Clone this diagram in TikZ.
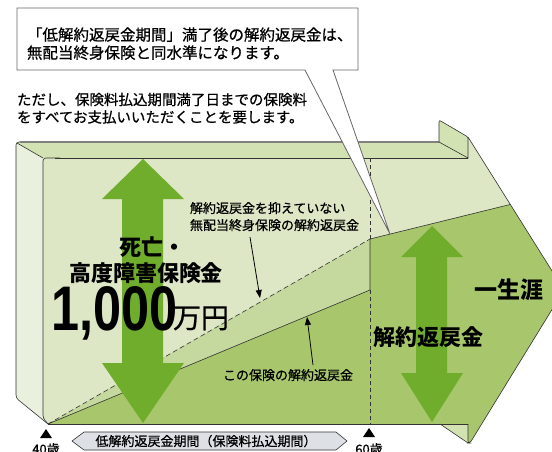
\documentclass[tikz,border=0pt]{standalone}
\usepackage{fontspec}
\usepackage{graphicx}
\setmainfont{Noto Sans CJK JP}
\newfontfamily\medfont{Noto Sans CJK JP}[FakeBold=0.7]
\newfontfamily\numfont{Liberation Sans}
\usetikzlibrary{arrows.meta}
\definecolor{faceL}{HTML}{DDE7C6}
\definecolor{sideL}{HTML}{E9F0DD}
\definecolor{bevelC}{HTML}{D3E2B2}
\definecolor{midG}{HTML}{C5D89E}
\definecolor{darkG}{HTML}{A8C66C}
\definecolor{arrowG}{HTML}{70AD2C}
\definecolor{bannerC}{HTML}{DDE1E6}
\definecolor{lineC}{HTML}{333333}
\begin{document}
\begin{tikzpicture}[x=1pt,y=-1pt,
  edge/.style={draw=lineC,line width=0.6pt},
  lbl/.style={inner sep=0pt,outer sep=0pt,anchor=base west,text=black},
  ctr/.style={inner sep=0pt,outer sep=0pt,anchor=base,text=black},
  ptr/.style={draw=black,line width=0.8pt,-{Triangle[length=8pt,width=6pt]}}]
\useasboundingbox (0,0) rectangle (552,452);
\clip (0,0) rectangle (552,452);
% key points
\coordinate (A) at (48,424);
\coordinate (S60) at (370,290);
\coordinate (D60) at (370,239);
\coordinate (Htop) at (468,137);
\coordinate (Tip) at (564,290);
\coordinate (Hbot) at (470,443);
\coordinate (X) at (intersection of 370,239--512,204 and 468,137--564,290);
% side panel
\fill[sideL] (16,142) -- (43,158) -- (43,418) -- (48,424) -- (16,398) -- cycle;
% top band and tab
\fill[bevelC] (16,142) -- (439,142) -- (468,158) -- (43,158) -- cycle;
\fill[bevelC] (439,142) -- (439,120) -- (468,137) -- (468,158) -- cycle;
% front face
\fill[faceL] (43,158) -- (468,158) -- (Htop) -- (Tip) -- (Hbot) -- (468,443) -- (468,424) -- (A) -- (43,418) -- cycle;
% middle band
\fill[midG] (A) -- (D60) -- (S60) -- cycle;
% this insurance area
\fill[darkG] (A) -- (S60) -- (D60) -- (X) -- (Tip) -- (Hbot) -- (468,443) -- (468,424) -- cycle;
% bottom bevel triangle
\fill[bevelC] (440,424) -- (468,424) -- (468,443) -- cycle;
% outlines
\draw[edge,rounded corners=3pt] (A) -- (16,398) -- (16,142) -- (30,142);
\draw[draw=gray,line width=1.1pt] (20,142) -- (439,142);
\draw[edge] (17,143) -- (43,158);
\draw[edge,rounded corners=3pt] (A) -- (43,418) -- (43,158) -- (60,158);
\draw[edge] (55,158) -- (468,158);
\draw[edge,rounded corners=2pt] (439,142) -- (439,120) -- (Htop) -- (Tip) -- (Hbot) -- (468,443) -- (468,424);
\draw[edge] (439,142) -- (468,158) -- (Htop);
\draw[edge] (A) -- (468,424);
\draw[edge] (440,424) -- (468,443);
\draw[edge] (A) -- (S60) -- (D60) -- (X);
\draw[edge,dash pattern=on 5pt off 3pt] (A) -- (D60);
\draw[edge,dash pattern=on 4pt off 3pt] (370,158) -- (D60);
\draw[edge,dash pattern=on 4pt off 3pt] (S60) -- (370,424);
% big arrows
\fill[arrowG] (143,159) -- (184,199) -- (163,199) -- (163,363) -- (184,363) -- (143,423) -- (102,363) -- (122,363) -- (122,199) -- (102,199) -- cycle;
\fill[arrowG] (432,226) -- (463,257) -- (447,257) -- (447,373) -- (463,373) -- (432,422) -- (401,373) -- (416,373) -- (416,257) -- (401,257) -- cycle;
% labels on chart
\node[lbl,font=\bfseries\fontsize{22}{24}\selectfont] (shibo) at (119,255.5) {死亡・};
\node[lbl,font=\bfseries\fontsize{22}{24}\selectfont] (kodo) at (69,281.5) {高度障害保険金};
\node[lbl] (amount) at (51,330) {\scalebox{0.8}[1]{\numfont\bfseries\fontsize{63}{65}\selectfont 1,000}};
\node[lbl,font=\medfont\fontsize{28}{30}\selectfont] (manen) at (173,328) {万円};
\node[lbl,font=\medfont\fontsize{13}{15}\selectfont] (cmp1) at (190,213) {解約返戻金を抑えていない};
\node[lbl,font=\medfont\fontsize{13}{15}\selectfont] (cmp2) at (190,230) {無配当終身保険の解約返戻金};
\node[lbl,font=\medfont\fontsize{13}{15}\selectfont] (this) at (223,380) {この保険の解約返戻金};
\node[lbl,font=\bfseries\fontsize{23}{25}\selectfont] (life) at (474,298.5) {一生涯};
\node[lbl,font=\bfseries\fontsize{22}{24}\selectfont] (surr) at (373,345.5) {解約返戻金};
% pointers
\coordinate (p1s) at (250,237);
\coordinate (p1e) at (260,298);
\coordinate (p2s) at (313,365);
\coordinate (p2e) at (307,317);
\draw[ptr] (p1s) -- (p1e);
\draw[ptr] (p2s) -- (p2e);
% bottom axis
\fill[black] (40,438) -- (52,438) -- (46,429) -- cycle;
\fill[black] (363,437) -- (375,437) -- (369,428) -- cycle;
\node[ctr,font=\medfont\fontsize{13}{15}\selectfont] (age40) at (46,454) {40歳};
\node[ctr,font=\medfont\fontsize{13}{15}\selectfont] (age60) at (369,454) {60歳};
\draw[fill=bannerC,draw=lineC,line width=0.6pt] (72,441) -- (84,432) -- (336,432) -- (347,441) -- (336,450) -- (84,450) -- cycle;
\node[ctr,font=\medfont\fontsize{13}{15}\selectfont] (period) at (206,446) {低解約返戻金期間（保険料払込期間）};
% notes
\node[lbl,font=\medfont\fontsize{14.5}{16}\selectfont] (note1) at (17,105) {ただし、保険料払込期間満了日までの保険料};
\node[lbl,font=\medfont\fontsize{14.5}{16}\selectfont] (note2) at (17,122.5) {をすべてお支払いいただくことを要します。};
% callout
\draw[fill=white,draw=gray!80!black,line width=0.8pt] (17,8) -- (358,8) -- (358,70) -- (333,70) -- (390,234) -- (305,70) -- (17,70) -- cycle;
\node[lbl,font=\medfont\fontsize{15.5}{18}\selectfont] (call1) at (27,40.5) {「低解約返戻金期間」満了後の解約返戻金は、};
\node[lbl,font=\medfont\fontsize{15.5}{18}\selectfont] (call2) at (27,58.5) {無配当終身保険と同水準になります。};
\end{tikzpicture}
\end{document}
